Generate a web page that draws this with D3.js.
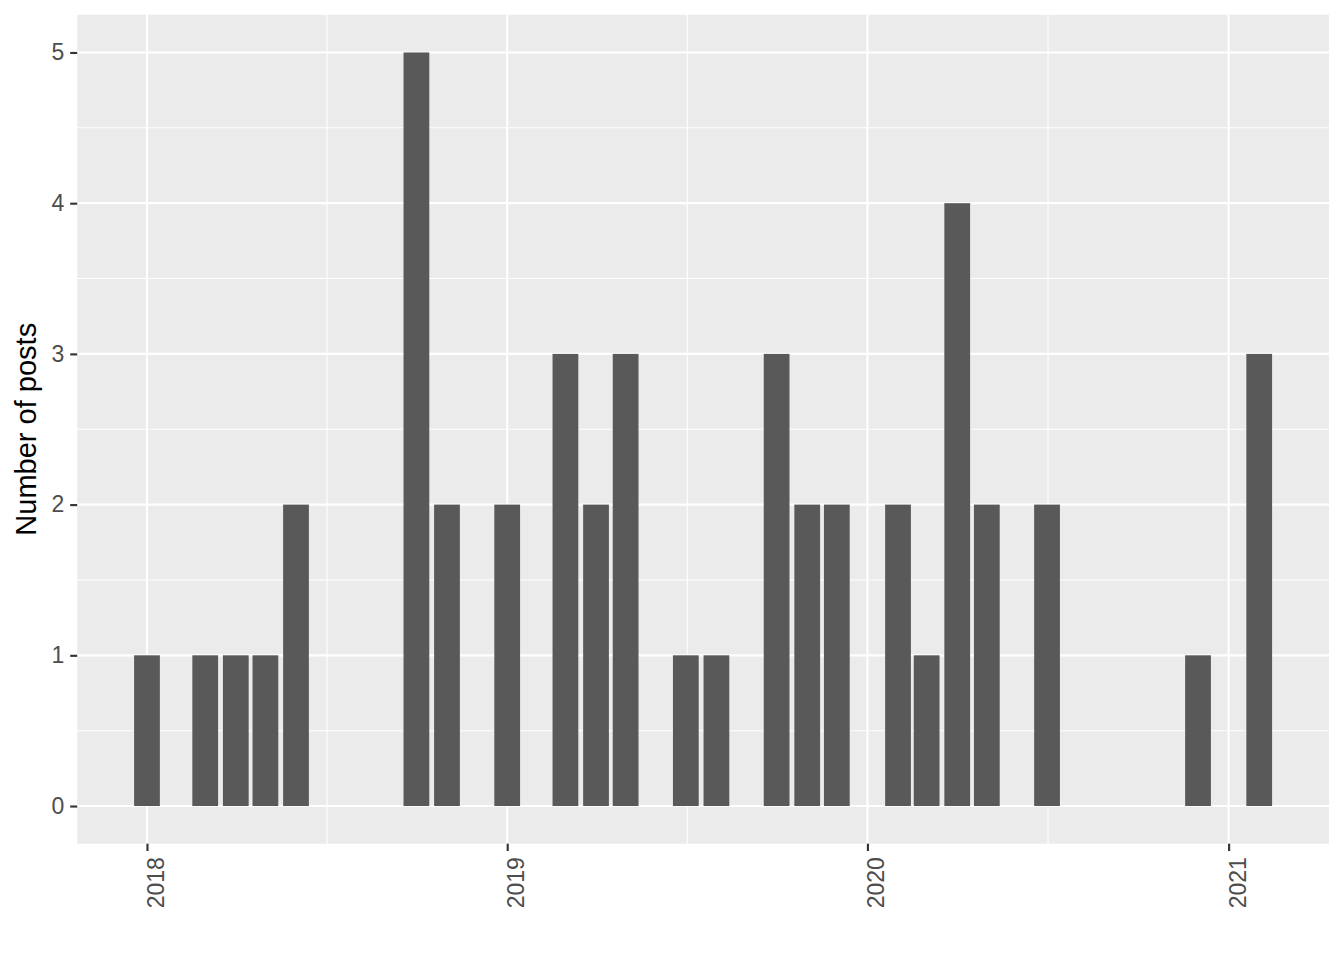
<!DOCTYPE html>
<html>
<head>
<meta charset="utf-8">
<script src="https://cdn.jsdelivr.net/npm/d3@7"></script>
<style>
  html, body { margin: 0; padding: 0; background: #fff; }
  svg { display: block; }
</style>
</head>
<body>
<svg id="chart" width="1344" height="960"></svg>
<script>
// Data: month of posting and number of posts
const months = ["2018-01","2018-03","2018-04","2018-05","2018-06","2018-10","2018-11",
  "2019-01","2019-03","2019-04","2019-05","2019-07","2019-08","2019-10","2019-11","2019-12",
  "2020-02","2020-03","2020-04","2020-05","2020-07","2020-12","2021-02"];
const posts = [1,1,1,1,2,5,2, 2,3,2,3,1,1,3,2,2, 2,1,4,2,2,1,3];
const yTicks = [0,1,2,3,4,5];
const xTickYears = [2018,2019,2020,2021];
const yTitle = "Number of posts";

const W = 1344, H = 960;
const panel = {left: 77.2, right: 1329, top: 14.8, bottom: 843.7};
const svg = d3.select("#chart");
const font = "'Liberation Sans', Arial, Helvetica, sans-serif";

const parse = d3.utcParse("%Y-%m");
const data = months.map((m, i) => ({date: parse(m), n: posts[i]}));
// bar width: 0.9 * resolution (smallest gap between dates)
let minGap = Infinity;
for (let i = 1; i < data.length; i++) minGap = Math.min(minGap, data[i].date - data[i-1].date);
const barW = 0.9 * minGap;
const lo = +data[0].date - barW/2, hi = +data[data.length-1].date + barW/2;
const pad = (hi - lo) * 0.05;
const x = d3.scaleUtc().domain([new Date(lo - pad), new Date(hi + pad)]).range([panel.left, panel.right]);
const y = d3.scaleLinear().domain([-0.25, 5.25]).range([panel.bottom, panel.top]);

// panel background
svg.append("rect").attr("x", panel.left).attr("y", panel.top)
  .attr("width", panel.right - panel.left).attr("height", panel.bottom - panel.top)
  .attr("fill", "#EBEBEB");

const majorX = xTickYears.map(yr => new Date(Date.UTC(yr, 0, 1)));
const minorX = [];
for (let i = 1; i < majorX.length; i++) minorX.push(new Date((+majorX[i-1] + +majorX[i]) / 2));
const minorY = d3.range(-0.5, 5.6, 1).filter(v => y(v) >= panel.top && y(v) <= panel.bottom);

const grid = svg.append("g");
grid.selectAll(".mny").data(minorY).join("line")
  .attr("x1", panel.left).attr("x2", panel.right)
  .attr("y1", d => y(d)).attr("y2", d => y(d))
  .attr("stroke", "#fff").attr("stroke-width", 1.07);
grid.selectAll(".mnx").data(minorX).join("line")
  .attr("y1", panel.top).attr("y2", panel.bottom)
  .attr("x1", d => x(d)).attr("x2", d => x(d))
  .attr("stroke", "#fff").attr("stroke-width", 1.07);
grid.selectAll(".mjy").data(yTicks).join("line")
  .attr("x1", panel.left).attr("x2", panel.right)
  .attr("y1", d => y(d)).attr("y2", d => y(d))
  .attr("stroke", "#fff").attr("stroke-width", 2.13);
grid.selectAll(".mjx").data(majorX).join("line")
  .attr("y1", panel.top).attr("y2", panel.bottom)
  .attr("x1", d => x(d)).attr("x2", d => x(d))
  .attr("stroke", "#fff").attr("stroke-width", 2.13);

// bars
svg.append("g").selectAll("rect").data(data).join("rect")
  .attr("x", d => x(new Date(+d.date - barW/2)))
  .attr("width", d => x(new Date(+d.date + barW/2)) - x(new Date(+d.date - barW/2)))
  .attr("y", d => y(d.n))
  .attr("height", d => y(0) - y(d.n))
  .attr("fill", "#595959");

// y axis
const yAxis = d3.axisLeft(y).tickValues(yTicks).tickSize(7).tickPadding(6).tickFormat(d3.format("d"));
const gy = svg.append("g").attr("transform", `translate(${panel.left},0)`).call(yAxis);
gy.select(".domain").remove();
gy.selectAll(".tick line").attr("stroke", "#333").attr("stroke-width", 2.13);
gy.selectAll(".tick text").attr("fill", "#4D4D4D").style("font-family", font).style("font-size", "23px");

// x axis
const xAxis = d3.axisBottom(x).tickValues(majorX).tickSize(7.3).tickFormat(d3.utcFormat("%Y"));
const gx = svg.append("g").attr("transform", `translate(0,${panel.bottom})`).call(xAxis);
gx.select(".domain").remove();
gx.selectAll(".tick line").attr("stroke", "#333").attr("stroke-width", 2.13);
gx.selectAll(".tick text")
  .attr("fill", "#4D4D4D").style("font-family", font).style("font-size", "23px")
  .attr("transform", "rotate(-90)")
  .attr("text-anchor", "end")
  .attr("x", -13.5).attr("y", 0).attr("dy", "0.72em")
  .attr("dx", 0);

// y title
svg.append("text")
  .attr("transform", `translate(36,${(panel.top + panel.bottom)/2}) rotate(-90)`)
  .attr("text-anchor", "middle")
  .attr("fill", "#000").style("font-family", font).style("font-size", "29px")
  .text(yTitle);
</script>
</body>
</html>
